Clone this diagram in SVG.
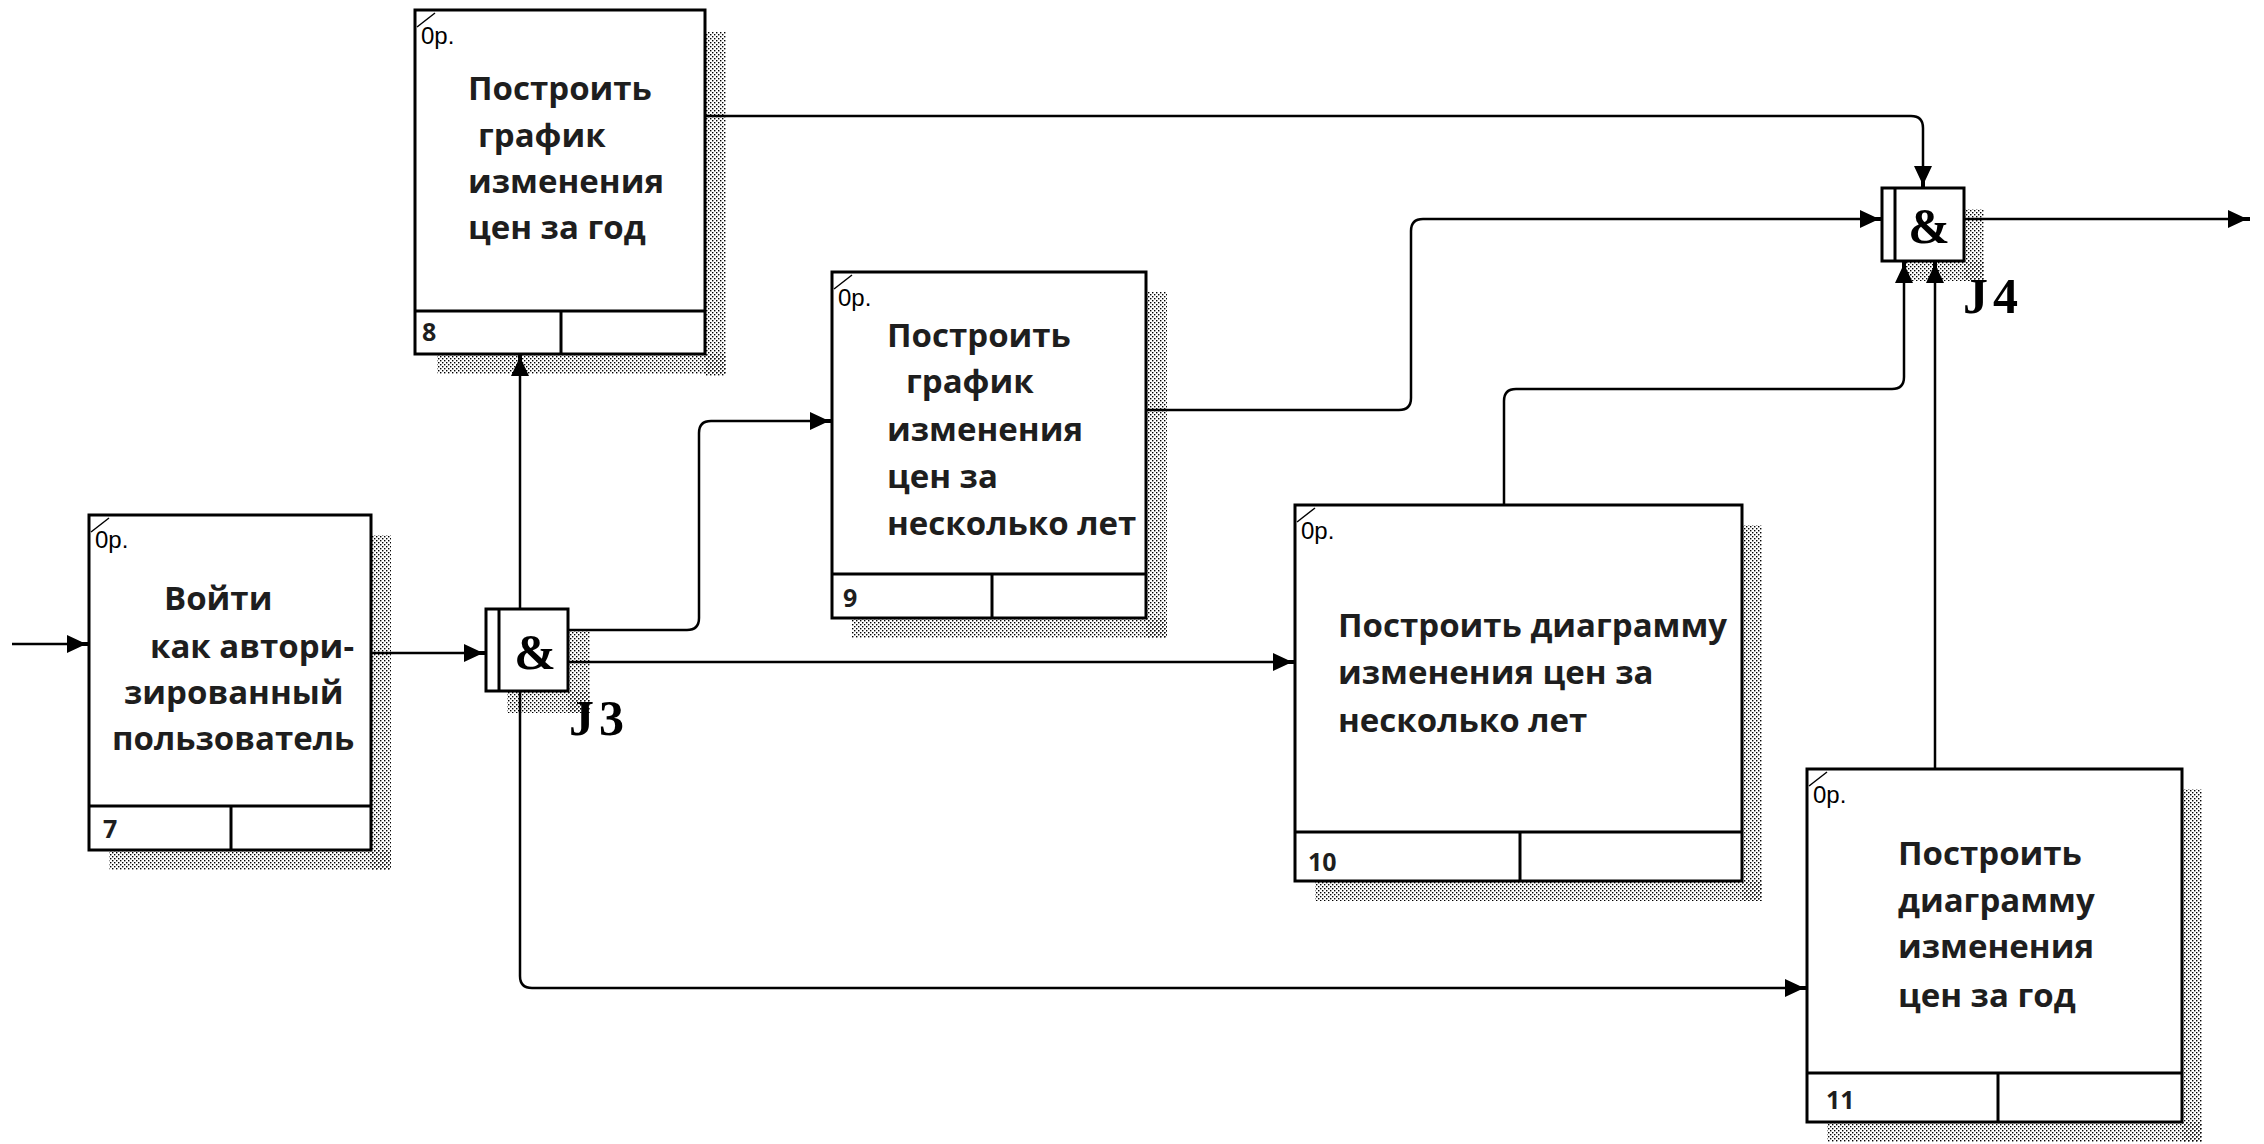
<svg xmlns="http://www.w3.org/2000/svg" width="2264" height="1144" viewBox="0 0 2264 1144">
<style>
.box{fill:#fff;stroke:#000;stroke-width:3}
.ln{fill:none;stroke:#000;stroke-width:3}
.tick{fill:none;stroke:#000;stroke-width:1.5}
.sh{fill:url(#dots)}
.t{font-family:"Open Sans","Noto Sans",sans-serif;font-weight:bold;font-size:33px;fill:#1e1e1e}
.num{font-family:"Open Sans","Noto Sans",sans-serif;font-weight:bold;font-size:25px;fill:#1e1e1e}
.op{font-family:"Liberation Sans",sans-serif;font-size:24px;fill:#000}
.amp{font-family:"Liberation Serif",serif;font-weight:bold;font-size:50px;fill:#000;text-anchor:middle}
.jl{font-family:"Liberation Serif",serif;font-weight:bold;font-size:50px;fill:#000;letter-spacing:5px}
.c{fill:none;stroke:#000;stroke-width:2.5;marker-end:url(#ah)}
</style>
<defs>
<pattern id="dots" width="4" height="4" patternUnits="userSpaceOnUse">
<rect x="0" y="0" width="1.4" height="1.4" fill="#000"/>
<rect x="2" y="2" width="1.4" height="1.4" fill="#000"/>
</pattern>
<marker id="ah" markerUnits="userSpaceOnUse" markerWidth="24" markerHeight="20" refX="22" refY="10" orient="auto" viewBox="0 0 24 20">
<path d="M0,1 L15,8 L22,8 L22,12 L15,12 L0,19 Z" fill="#000"/>
</marker>
</defs>
<rect width="2264" height="1144" fill="#fff"/>

<g id="node7">
<rect class="sh" x="371" y="535" width="20" height="335"/>
<rect class="sh" x="109" y="850" width="282" height="20"/>
<rect class="box" x="89" y="515" width="282" height="335"/>
<line class="ln" x1="89" y1="806" x2="371" y2="806"/>
<line class="ln" x1="231" y1="806" x2="231" y2="850"/>
<line class="tick" x1="91" y1="532" x2="109" y2="518"/>
<text class="op" x="95" y="548">0р.</text>
<text class="t" x="164" y="610">Войти</text>
<text class="t" x="150" y="658">как автори-</text>
<text class="t" x="124" y="704">зированный</text>
<text class="t" x="112" y="750">пользователь</text>
<text class="num" x="103" y="838">7</text>
</g>

<g id="node8">
<rect class="sh" x="705" y="32" width="21" height="344"/>
<rect class="sh" x="437" y="354" width="289" height="20"/>
<rect class="box" x="415" y="10" width="290" height="344"/>
<line class="ln" x1="415" y1="311" x2="705" y2="311"/>
<line class="ln" x1="561" y1="311" x2="561" y2="354"/>
<line class="tick" x1="417" y1="27" x2="435" y2="13"/>
<text class="op" x="421" y="44">0р.</text>
<text class="t" x="468" y="100">Построить</text>
<text class="t" x="478" y="147">график</text>
<text class="t" x="468" y="193">изменения</text>
<text class="t" x="468" y="239">цен за год</text>
<text class="num" x="422" y="341">8</text>
</g>

<g id="node9">
<rect class="sh" x="1146" y="292" width="21" height="346"/>
<rect class="sh" x="852" y="618" width="315" height="20"/>
<rect class="box" x="832" y="272" width="314" height="346"/>
<line class="ln" x1="832" y1="574" x2="1146" y2="574"/>
<line class="ln" x1="992" y1="574" x2="992" y2="618"/>
<line class="tick" x1="834" y1="289" x2="852" y2="275"/>
<text class="op" x="838" y="306">0р.</text>
<text class="t" x="887" y="347">Построить</text>
<text class="t" x="906" y="393">график</text>
<text class="t" x="887" y="441">изменения</text>
<text class="t" x="887" y="488">цен за</text>
<text class="t" x="887" y="535">несколько лет</text>
<text class="num" x="843" y="607">9</text>
</g>

<g id="node10">
<rect class="sh" x="1742" y="525" width="20" height="376"/>
<rect class="sh" x="1315" y="881" width="447" height="20"/>
<rect class="box" x="1295" y="505" width="447" height="376"/>
<line class="ln" x1="1295" y1="832" x2="1742" y2="832"/>
<line class="ln" x1="1520" y1="832" x2="1520" y2="881"/>
<line class="tick" x1="1297" y1="522" x2="1315" y2="508"/>
<text class="op" x="1301" y="539">0р.</text>
<text class="t" x="1338" y="637">Построить диаграмму</text>
<text class="t" x="1338" y="684">изменения цен за</text>
<text class="t" x="1338" y="732">несколько лет</text>
<text class="num" x="1308" y="871">10</text>
</g>

<g id="node11">
<rect class="sh" x="2182" y="789" width="20" height="353"/>
<rect class="sh" x="1827" y="1122" width="375" height="20"/>
<rect class="box" x="1807" y="769" width="375" height="353"/>
<line class="ln" x1="1807" y1="1073" x2="2182" y2="1073"/>
<line class="ln" x1="1998" y1="1073" x2="1998" y2="1122"/>
<line class="tick" x1="1809" y1="786" x2="1827" y2="772"/>
<text class="op" x="1813" y="803">0р.</text>
<text class="t" x="1898" y="865">Построить</text>
<text class="t" x="1898" y="912">диаграмму</text>
<text class="t" x="1898" y="958">изменения</text>
<text class="t" x="1898" y="1007">цен за год</text>
<text class="num" x="1826" y="1109">11</text>
</g>

<g id="J3">
<rect class="sh" x="568" y="630" width="22" height="83"/>
<rect class="sh" x="507" y="691" width="83" height="22"/>
<rect class="box" x="486" y="609" width="82" height="82"/>
<line class="ln" x1="499" y1="609" x2="499" y2="691"/>
<text class="amp" x="535" y="669">&amp;</text>
<text class="jl" x="569" y="735">J3</text>
</g>

<g id="J4">
<rect class="sh" x="1964" y="209" width="20" height="72"/>
<rect class="sh" x="1904" y="261" width="80" height="20"/>
<rect class="box" x="1882" y="188" width="82" height="73"/>
<line class="ln" x1="1895" y1="188" x2="1895" y2="261"/>
<text class="amp" x="1929" y="243">&amp;</text>
<text class="jl" x="1963" y="313">J4</text>
</g>

<g id="connectors">
<path class="c" d="M12,644 H89"/>
<path class="c" d="M371,653 H486"/>
<path class="c" d="M520,609 V354"/>
<path class="c" d="M568,630 H687 Q699,630 699,618 V433 Q699,421 711,421 H832"/>
<path class="c" d="M568,662 H1295"/>
<path class="c" d="M520,691 V976 Q520,988 532,988 H1807"/>
<path class="c" d="M705,116 H1911 Q1923,116 1923,128 V188"/>
<path class="c" d="M1146,410 H1399 Q1411,410 1411,398 V231 Q1411,219 1423,219 H1882"/>
<path class="c" d="M1504,505 V401 Q1504,389 1516,389 H1892 Q1904,389 1904,377 V261"/>
<path class="c" d="M1935,769 V261"/>
<path class="c" d="M1964,219 H2250"/>
</g>
</svg>
